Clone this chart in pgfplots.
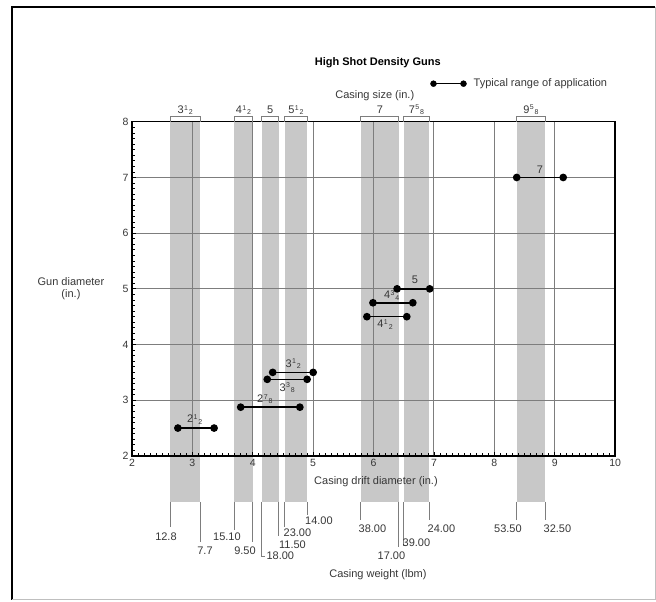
\documentclass[border=0pt]{standalone}
\usepackage{fontspec}
\setmainfont{Liberation Sans}
\usepackage{pgfplots}
\pgfplotsset{compat=1.18}
\definecolor{band}{RGB}{200,200,200}
\definecolor{gridc}{RGB}{125,125,125}
\definecolor{txt}{RGB}{55,55,55}
\newcommand\fr[3]{#1\kern0.04em\raisebox{0.6ex}{\fontsize{7}{7}\selectfont #2}\kern0.08em\raisebox{-0.25ex}{\fontsize{7}{7}\selectfont #3}}
\newcommand\lbl{\fontsize{11}{12}\selectfont}
\begin{document}
\begin{tikzpicture}[font=\lbl]
\begin{axis}[
 set layers,
 scale only axis, width=483pt, height=334pt,
 xmin=2, xmax=10, ymin=2, ymax=8,
 xtick={2,...,10}, ytick={2,...,8},
 minor tick num=9,
 xtick pos=bottom, ytick pos=left, tick align=inside,
 major tick length=4pt, minor tick length=3pt,
 tick style={black, line width=0.8pt},
 grid=major, major grid style={gridc, line width=1pt},
 axis line style={black, line width=1.3pt},
 clip=false,
 ticklabel style={font=\fontsize{10.5}{12}\selectfont, text=txt},
 /pgf/number format/assume math mode=true,
 legend style={at={(0.617,1.114)}, anchor=west, draw=none, fill=none, inner sep=0pt,
   nodes={inner sep=0pt, text=txt, font=\lbl},
   /tikz/every odd column/.append style={column sep=7pt}},
]
\addlegendimage{legend image code/.code={\draw[black, line width=1.6pt] (0pt,0pt) -- (30pt,0pt); \fill[black] (0pt,0pt) circle (3pt); \fill[black] (30pt,0pt) circle (3pt);}}
\addlegendentry{Typical range of application}

% casing bands (drift diameter ranges)
\addplot[on layer=axis background, fill=band, draw=none] coordinates {(2.63,1.174) (3.13,1.174) (3.13,8) (2.63,8)} -- cycle;
\addplot[on layer=axis background, fill=band, draw=none] coordinates {(3.69,1.174) (4.00,1.174) (4.00,8) (3.69,8)} -- cycle;
\addplot[on layer=axis background, fill=band, draw=none] coordinates {(4.15,1.174) (4.43,1.174) (4.43,8) (4.15,8)} -- cycle;
\addplot[on layer=axis background, fill=band, draw=none] coordinates {(4.53,1.174) (4.90,1.174) (4.90,8) (4.53,8)} -- cycle;
\addplot[on layer=axis background, fill=band, draw=none] coordinates {(5.79,1.174) (6.42,1.174) (6.42,8) (5.79,8)} -- cycle;
\addplot[on layer=axis background, fill=band, draw=none] coordinates {(6.50,1.174) (6.92,1.174) (6.92,8) (6.50,8)} -- cycle;
\addplot[on layer=axis background, fill=band, draw=none] coordinates {(8.37,1.174) (8.84,1.174) (8.84,8) (8.37,8)} -- cycle;

% top brackets (casing size)
\addplot[gridc, line width=0.9pt] coordinates {(2.63,8) (2.63,8.10) (3.13,8.10) (3.13,8)};
\addplot[gridc, line width=0.9pt] coordinates {(3.69,8) (3.69,8.10) (4.00,8.10) (4.00,8)};
\addplot[gridc, line width=0.9pt] coordinates {(4.15,8) (4.15,8.10) (4.43,8.10) (4.43,8)};
\addplot[gridc, line width=0.9pt] coordinates {(4.53,8) (4.53,8.10) (4.90,8.10) (4.90,8)};
\addplot[gridc, line width=0.9pt] coordinates {(5.79,8) (5.79,8.10) (6.42,8.10) (6.42,8)};
\addplot[gridc, line width=0.9pt] coordinates {(6.50,8) (6.50,8.10) (6.92,8.10) (6.92,8)};
\addplot[gridc, line width=0.9pt] coordinates {(8.37,8) (8.37,8.10) (8.84,8.10) (8.84,8)};
\node[text=txt] at (axis cs:2.88,8.21) {\fr{3}{1}{2}};
\node[text=txt] at (axis cs:3.845,8.21) {\fr{4}{1}{2}};
\node[text=txt] at (axis cs:4.29,8.21) {5};
\node[text=txt] at (axis cs:4.715,8.21) {\fr{5}{1}{2}};
\node[text=txt] at (axis cs:6.105,8.21) {7};
\node[text=txt] at (axis cs:6.71,8.21) {\fr{7}{5}{8}};
\node[text=txt] at (axis cs:8.605,8.21) {\fr{9}{5}{8}};

% casing weight leaders
\addplot[gridc, line width=0.9pt] coordinates {(2.63,1.174) (2.63,0.725)};
\addplot[gridc, line width=0.9pt] coordinates {(3.13,1.174) (3.13,0.456)};
\addplot[gridc, line width=0.9pt] coordinates {(3.69,1.174) (3.69,0.671)};
\addplot[gridc, line width=0.9pt] coordinates {(4.00,1.174) (4.00,0.456)};
\addplot[gridc, line width=0.9pt] coordinates {(4.15,1.174) (4.15,0.187) (4.21,0.187)};
\addplot[gridc, line width=0.9pt] coordinates {(4.43,1.174) (4.43,0.56)};
\addplot[gridc, line width=0.9pt] coordinates {(4.53,1.174) (4.53,0.725)};
\addplot[gridc, line width=0.9pt] coordinates {(4.90,1.174) (4.90,0.941)};
\addplot[gridc, line width=0.9pt] coordinates {(5.79,1.174) (5.79,0.851)};
\addplot[gridc, line width=0.9pt] coordinates {(6.42,1.174) (6.42,0.366)};
\addplot[gridc, line width=0.9pt] coordinates {(6.50,1.174) (6.50,0.40) (6.53,0.40)};
\addplot[gridc, line width=0.9pt] coordinates {(6.92,1.174) (6.92,0.851)};
\addplot[gridc, line width=0.9pt] coordinates {(8.37,1.174) (8.37,0.851)};
\addplot[gridc, line width=0.9pt] coordinates {(8.84,1.174) (8.84,0.851)};
\node[text=txt] at (axis cs:2.563,0.546) {12.8};
\node[text=txt] at (axis cs:3.209,0.294) {7.7};
\node[text=txt] at (axis cs:3.573,0.546) {15.10};
\node[text=txt] at (axis cs:3.871,0.294) {9.50};
\node[text=txt, anchor=west, inner sep=0pt] at (axis cs:4.225,0.205) {18.00};
\node[text=txt] at (axis cs:4.657,0.402) {11.50};
\node[text=txt] at (axis cs:4.740,0.618) {23.00};
\node[text=txt] at (axis cs:5.096,0.833) {14.00};
\node[text=txt] at (axis cs:5.982,0.689) {38.00};
\node[text=txt] at (axis cs:6.296,0.205) {17.00};
\node[text=txt] at (axis cs:6.71,0.438) {39.00};
\node[text=txt] at (axis cs:7.124,0.689) {24.00};
\node[text=txt] at (axis cs:8.225,0.689) {53.50};
\node[text=txt] at (axis cs:9.045,0.689) {32.50};

% gun diameter ranges
\addplot[black, line width=1.6pt, mark=*, mark size=3pt, mark options={fill=black}] coordinates {(2.76,2.5) (3.36,2.5)};
\addplot[black, line width=1.6pt, mark=*, mark size=3pt, mark options={fill=black}] coordinates {(3.80,2.875) (4.78,2.875)};
\addplot[black, line width=1.6pt, mark=*, mark size=3pt, mark options={fill=black}] coordinates {(4.24,3.375) (4.90,3.375)};
\addplot[black, line width=1.6pt, mark=*, mark size=3pt, mark options={fill=black}] coordinates {(4.33,3.5) (5.00,3.5)};
\addplot[black, line width=1.6pt, mark=*, mark size=3pt, mark options={fill=black}] coordinates {(5.89,4.5) (6.55,4.5)};
\addplot[black, line width=1.6pt, mark=*, mark size=3pt, mark options={fill=black}] coordinates {(5.99,4.75) (6.65,4.75)};
\addplot[black, line width=1.6pt, mark=*, mark size=3pt, mark options={fill=black}] coordinates {(6.39,5.0) (6.93,5.0)};
\addplot[black, line width=1.6pt, mark=*, mark size=3pt, mark options={fill=black}] coordinates {(8.37,7.0) (9.14,7.0)};
\node[text=txt] at (axis cs:3.04,2.66) {\fr{2}{1}{2}};
\node[text=txt] at (axis cs:4.20,3.02) {\fr{2}{7}{8}};
\node[text=txt] at (axis cs:4.57,3.22) {\fr{3}{3}{8}};
\node[text=txt] at (axis cs:4.67,3.65) {\fr{3}{1}{2}};
\node[text=txt] at (axis cs:6.19,4.36) {\fr{4}{1}{2}};
\node[text=txt] at (axis cs:6.30,4.88) {\fr{4}{3}{4}};
\node[text=txt] at (axis cs:6.685,5.16) {5};
\node[text=txt] at (axis cs:8.755,7.14) {7};

% titles and axis descriptions
\node[text=black, font=\bfseries\lbl] at (axis cs:6.07,9.056) {High Shot Density Guns};
\node[text=txt] at (axis cs:6.02,8.463) {Casing size (in.)};
\node[text=txt] at (axis cs:6.04,1.533) {Casing drift diameter (in.)};
\node[text=txt] at (axis cs:6.073,-0.136) {Casing weight (lbm)};
\node[text=txt, align=center] at (axis cs:0.99,5.0) {Gun diameter\\(in.)};

% outer frame
\draw[black, line width=2pt] (axis cs:0.013,-0.585) -- (axis cs:0.013,10.06) -- (axis cs:10.66,10.06);
\draw[black!25, line width=0.8pt] (axis cs:10.66,10.06) -- (axis cs:10.66,-0.585) -- (axis cs:0.013,-0.585);
\path (axis cs:-0.185,-0.621) rectangle (axis cs:10.675,10.187);
\end{axis}
\end{tikzpicture}
\end{document}
